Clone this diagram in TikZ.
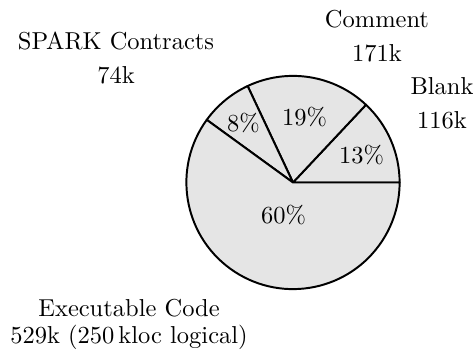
\documentclass[tikz,border=0pt]{standalone}
\usepackage{tikz}
\usepackage{xcolor}

\begin{document}
\begin{tikzpicture}[
        slice/.style={draw, thick, fill=black!10, line join=round},
        pct/.style={inner sep=0pt},
        label/.style={align=center, inner sep=0pt}
    ]
        \useasboundingbox (-4.205,-2.547) rectangle (2.583,2.619);
        \def\rad{1.53}

        % Slices
        \coordinate (c) at (0,0);
        \foreach \a/\b in {0/46.8, 46.8/115.2, 115.2/144, 144/360}
            \filldraw[slice] (c) -- (\a:\rad) arc[start angle=\a, end angle=\b, radius=\rad] -- cycle;

        % Percentages
        \node[pct] (pblank) at (0.983,0.395) {13\%};
        \node[pct] (pcomment) at (0.165,0.947) {19\%};
        \node[pct] (pspark) at (-0.710,0.861) {8\%};
        \node[pct] (pcode) at (-0.136,-0.466) {60\%};

        % Labels
        \node[label] (lblank) at (2.138,1.138) {Blank \\[2pt] 116k};
        \node[label] (lcomment) at (1.205,2.098) {Comment \\[2pt] 171k};
        \node[label] (lspark) at (-2.540,1.791) {SPARK Contracts \\[2pt] 74k};
        \node[label] (lcode) at (-2.353,-2.036) {Executable Code \\[-1.2pt] 529k (250\,kloc logical)};

    \end{tikzpicture}
\end{document}
